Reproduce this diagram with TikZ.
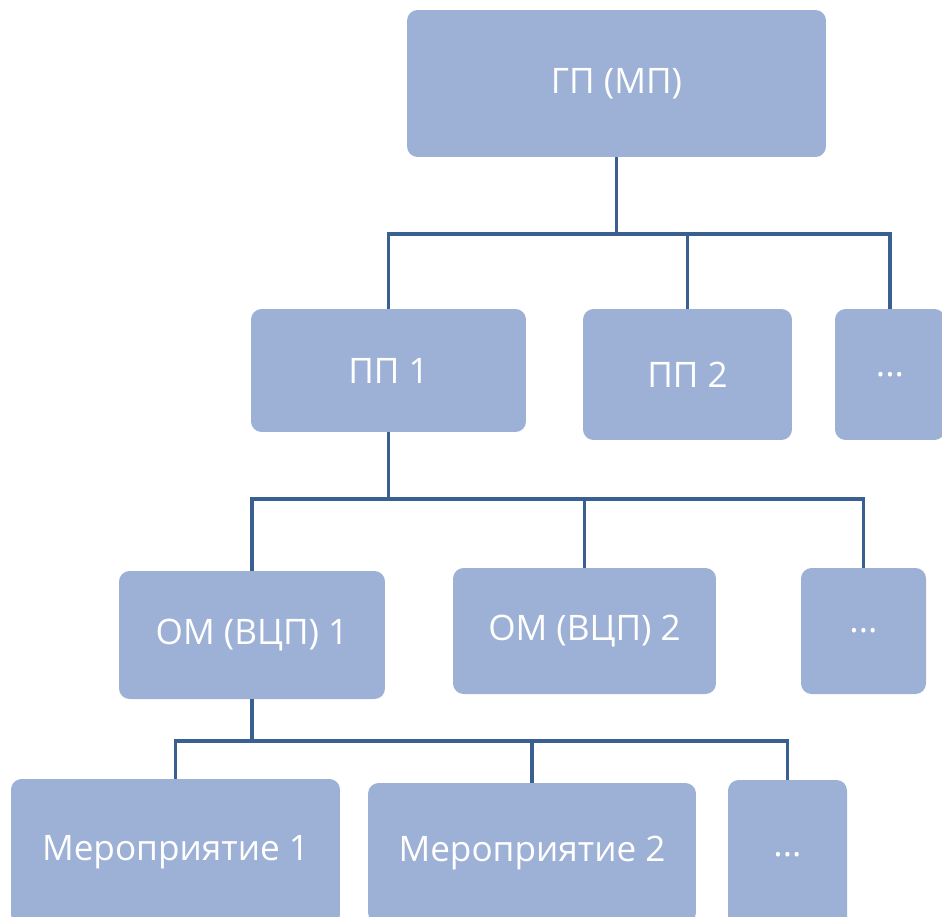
\documentclass[tikz,border=0pt]{standalone}
\usepackage{fontspec}
\setmainfont{Open Sans}
\usetikzlibrary{calc}
\definecolor{boxfill}{RGB}{157,176,214}
\definecolor{linkblue}{RGB}{58,95,145}
\tikzset{
  unit/.style={rounded corners=6pt, fill=boxfill, text=white,
    font=\fontsize{20}{24}\selectfont, inner sep=0pt},
  link/.style={draw=linkblue, line width=2pt},
}

\begin{document}
\begin{tikzpicture}[x=0.02cm, y=-0.02cm]
	%%%%% START %%%%%
	\useasboundingbox (0,0) rectangle (942,916);
	\clip (0,0) rectangle (942,916);
	
	% top level
	\node[unit, minimum width=8.38cm, minimum height=2.94cm] (gp) at (616.5, 83.5) {ГП (МП)};
	
	% second level
	\node[unit, minimum width=5.5cm, minimum height=2.46cm] (pp1) at (388.5, 370.5) {ПП 1};
	\node[unit, minimum width=4.18cm, minimum height=2.62cm] (pp2) at (687.5, 374.5) {ПП 2};
	\node[unit, minimum width=2.2cm, minimum height=2.62cm] (ppdots) at (890, 374.5) {...};
	
	% third level
	\node[unit, minimum width=5.32cm, minimum height=2.56cm] (om1) at (252, 635) {ОМ (ВЦП) 1};
	\node[unit, minimum width=5.26cm, minimum height=2.52cm] (om2) at (584.5, 631) {ОМ (ВЦП) 2};
	\node[unit, minimum width=2.5cm, minimum height=2.52cm] (omdots) at (863.5, 631) {...};
	
	% fourth level
	\node[unit, minimum width=6.58cm, minimum height=2.92cm] (m1) at (175.5, 852) {Мероприятие 1};
	\node[unit, minimum width=6.56cm, minimum height=2.8cm] (m2) at (532, 853) {Мероприятие 2};
	\node[unit, minimum width=2.38cm, minimum height=3cm] (mdots) at (787.5, 855) {...};
	
	% buses
	\coordinate (bus1) at (616.5, 234);
	\coordinate (bus2) at (388.5, 499);
	\coordinate (bus3) at (252, 741);
	
	\draw[link] (gp.south) -- (bus1);
	\draw[link] (bus1) -| (pp1.north);
	\draw[link] (bus1) -| (pp2.north);
	\draw[link] (bus1) -| (ppdots.north);
	
	\draw[link] (pp1.south) -- (bus2);
	\draw[link] (bus2) -| (om1.north);
	\draw[link] (bus2) -| (om2.north);
	\draw[link] (bus2) -| (omdots.north);
	
	\draw[link] (om1.south) -- (bus3);
	\draw[link] (bus3) -| (m1.north);
	\draw[link] (bus3) -| (m2.north);
	\draw[link] (bus3) -| (mdots.north);
	%%%%% END %%%%%
\end{tikzpicture}
\end{document}
